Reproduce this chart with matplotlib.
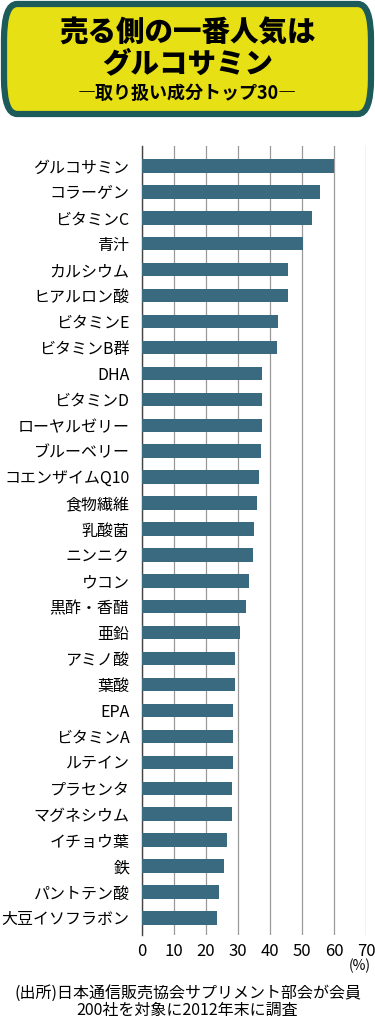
import matplotlib.pyplot as plt
from matplotlib.patches import FancyBboxPatch

plt.rcParams['font.family'] = ['Noto Sans CJK JP', 'DejaVu Sans']

#%% Data
items = ["グルコサミン", "コラーゲン", "ビタミンC", "青汁", "カルシウム", "ヒアルロン酸",
         "ビタミンE", "ビタミンB群", "DHA", "ビタミンD", "ローヤルゼリー", "ブルーベリー",
         "コエンザイムQ10", "食物繊維", "乳酸菌", "ニンニク", "ウコン", "黒酢・香醋",
         "亜鉛", "アミノ酸", "葉酸", "EPA", "ビタミンA", "ルテイン", "プラセンタ",
         "マグネシウム", "イチョウ葉", "鉄", "パントテン酸", "大豆イソフラボン"]
shares = [60.0, 55.6, 53.0, 50.3, 45.5, 45.5, 42.5, 42.1, 37.5, 37.5, 37.5, 37.1,
          36.5, 36.0, 35.0, 34.6, 33.5, 32.5, 30.5, 29.0, 29.0, 28.5, 28.5, 28.5,
          28.0, 28.0, 26.5, 25.5, 24.0, 23.5]
xticks = [0, 10, 20, 30, 40, 50, 60, 70]

title1 = "売る側の一番人気は"
title2 = "グルコサミン"
subtitle = "―取り扱い成分トップ30―"
note = "(出所)日本通信販売協会サプリメント部会が会員\n200社を対象に2012年末に調査"

#%% Figure
W, H = 375, 1024
fig = plt.figure(figsize=(W / 100, H / 100), dpi=100)

# header box
fig.patches.append(FancyBboxPatch((4 / W, 1 - 114 / H), 367 / W, 110 / H,
                                  boxstyle="round,pad=0,rounding_size=0.035",
                                  transform=fig.transFigure, facecolor="#e6e014",
                                  edgecolor="#1d5a5a", linewidth=4.5))
fig.text(0.5, 1 - 33 / H, title1, ha="center", va="center", fontsize=20.5,
         fontweight="black")
fig.text(0.5, 1 - 63 / H, title2, ha="center", va="center", fontsize=20.5,
         fontweight="black")
fig.text(0.5, 1 - 93 / H, subtitle, ha="center", va="center", fontsize=13,
         fontweight="bold")

# bar chart
ax = fig.add_axes([142 / W, 1 - 935 / H, 224 / W, (935 - 146) / H])
y = list(range(len(items)))
ax.barh(y, shares, height=0.52, color="#3a6a80", zorder=3)
ax.set_xlim(0, 70)
ax.set_ylim(29.66, -0.77)
ax.set_yticks(y)
ax.set_yticklabels(items, fontsize=11.5)
ax.set_xticks(xticks)
ax.set_xticklabels([str(t) for t in xticks], fontsize=12)
ax.tick_params(axis="both", length=0, pad=6)
ax.tick_params(axis="y", pad=9)
ax.grid(axis="x", color="#999999", linewidth=0.9, zorder=0)
for s in ["top", "right", "bottom"]:
    ax.spines[s].set_visible(False)
ax.spines["left"].set_color("#444444")
ax.spines["left"].set_linewidth(1.0)

fig.text(371 / W, 1 - 966 / H, "(%)", ha="right", va="center", fontsize=10)
fig.text(0.5, 1 - 1002 / H, note, ha="center", va="center", fontsize=11.5,
         linespacing=1.05)

fig.savefig("out.png", dpi=100, facecolor="white")
